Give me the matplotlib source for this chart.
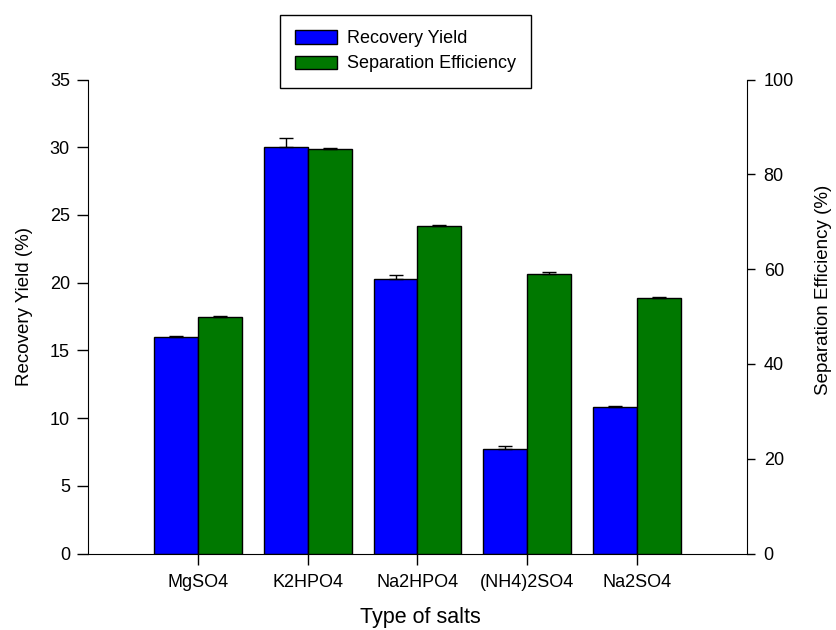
import matplotlib
matplotlib.use("Agg")
import matplotlib.pyplot as plt
import numpy as np
from matplotlib.patches import Patch

plt.rcParams['font.family'] = ['Liberation Sans', 'DejaVu Sans']

# values
salts = ['MgSO4', 'K2HPO4', 'Na2HPO4', '(NH4)2SO4', 'Na2SO4']
recovery = [16.0, 30.0, 20.3, 7.7, 10.8]
recovery_err = [0.05, 0.7, 0.3, 0.25, 0.12]
separation = [50.0, 85.3, 69.1, 58.9, 53.9]
separation_err = [0.2, 0.2, 0.3, 0.4, 0.3]

blue = '#0000ff'
green = '#007800'
w = 0.4
x = np.arange(len(salts))
n = len(salts)

fig = plt.figure(figsize=(8.37, 6.3), dpi=100)
ax = fig.add_axes([88 / 837, 1 - 553.5 / 630, 659 / 837, 474 / 630])
ax2 = ax.twinx()

ax.bar(x - w / 2, recovery, w, color=blue, edgecolor='black', linewidth=1,
       yerr=[[0] * n, recovery_err], capsize=5,
       error_kw=dict(elinewidth=1, capthick=1, ecolor='black'))
ax2.bar(x + w / 2, separation, w, color=green, edgecolor='black', linewidth=1,
        yerr=[[0] * n, separation_err], capsize=5,
        error_kw=dict(elinewidth=1, capthick=1, ecolor='black'))

ax.set_xlim(-1, 5)
ax.set_ylim(0, 35)
ax2.set_ylim(0, 100)
ax.set_yticks(range(0, 36, 5))
ax2.set_yticks(range(0, 101, 20))
ax.set_xticks(x)
ax.set_xticklabels(salts)

for a in (ax, ax2):
    a.spines['top'].set_visible(False)
ax.spines['right'].set_visible(False)
ax2.spines['left'].set_visible(False)
ax2.spines['bottom'].set_visible(False)

ax.tick_params(axis='x', direction='out', length=8, width=1, pad=7, labelsize=13)
ax.tick_params(axis='y', direction='out', length=8, width=1, pad=5, labelsize=13)
ax2.tick_params(axis='y', direction='out', length=6, width=1, pad=6, labelsize=13)

ax.set_ylabel('Recovery Yield (%)', fontsize=13.5)
ax.yaxis.set_label_coords(-0.083, 0.522)
ax2.set_ylabel('Separation Efficiency (%)', fontsize=13.5)
ax2.yaxis.set_label_coords(1.103, 0.556)
ax.set_xlabel('Type of salts', fontsize=15.5)
ax.xaxis.set_label_coords(0.504, -0.112)

handles = [Patch(facecolor=blue, edgecolor='black', label='Recovery Yield'),
           Patch(facecolor=green, edgecolor='black', label='Separation Efficiency')]
leg = fig.legend(handles=handles, loc='upper left',
                 bbox_to_anchor=(280 / 837, 1 - 15 / 630), fontsize=13,
                 fancybox=False, framealpha=1, edgecolor='black',
                 handlelength=2.3, handleheight=0.75, labelspacing=0.45,
                 borderpad=0.85, handletextpad=0.55, borderaxespad=0)
leg.get_frame().set_linewidth(1)

fig.savefig('out.png', dpi=100)
